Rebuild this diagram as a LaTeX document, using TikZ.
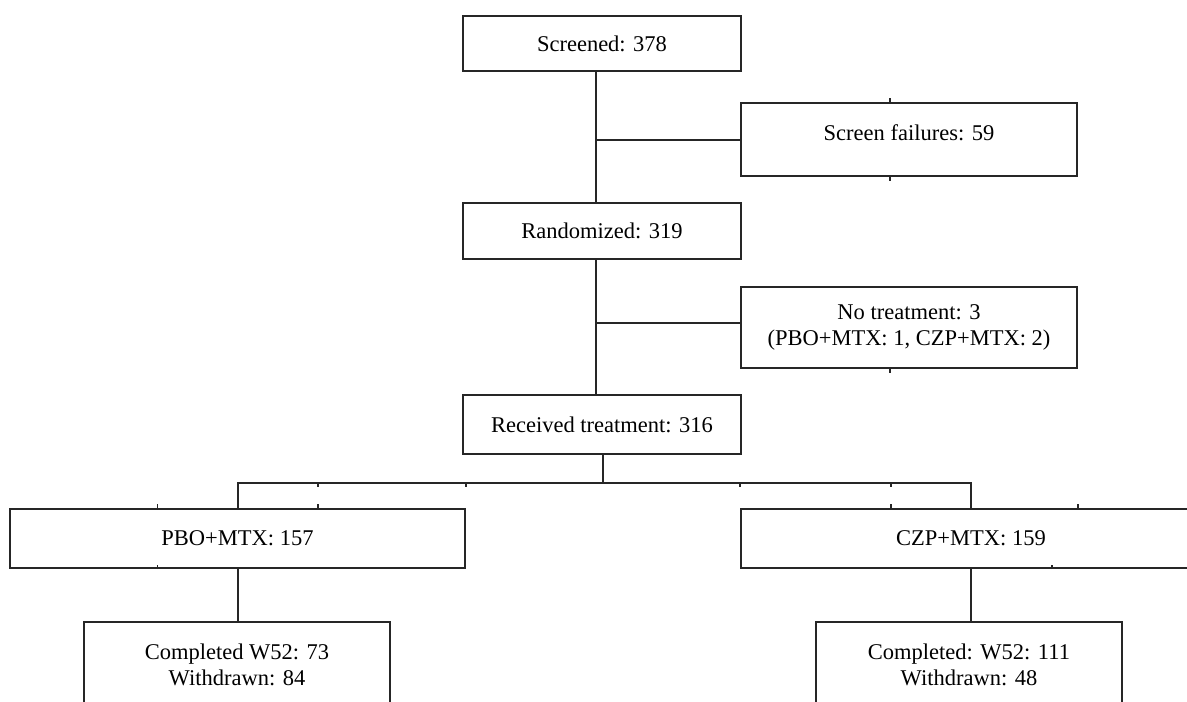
\documentclass[tikz,border=0pt]{standalone}
\usepackage{fontspec}
\setmainfont{Liberation Serif}
\begin{document}
\begin{tikzpicture}[x=1pt,y=-1pt,
  box/.style={draw=black!85, line width=2pt, inner sep=0pt, align=center,
    font=\fontsize{22.5}{26}\selectfont},
  txt/.style={inner sep=0pt, align=center, font=\fontsize{22.5}{26}\selectfont},
  link/.style={draw=black!85, line width=2pt},
  tick/.style={draw=black!85, line width=1.2pt}]
\useasboundingbox (0,0) rectangle (1187,702);
\clip (0,0) rectangle (1187,702);
\fill[white] (0,0) rectangle (1187,702);

\node[box, minimum width=278pt, minimum height=55pt] (scr) at (602,43.5) {Screened: 378};
\node[box, minimum width=336pt, minimum height=73pt] (sf) at (909,139.5) {};
\node[txt] (sftxt) at ([yshift=7pt]sf.center) {Screen failures: 59};
\node[box, minimum width=278pt, minimum height=56pt] (rnd) at (602,231) {Randomized: 319};
\node[box, minimum width=336pt, minimum height=81pt] (nt) at (909,327.5) {No treatment: 3\\(PBO+MTX: 1, CZP+MTX: 2)};
\node[box, minimum width=278pt, minimum height=59pt] (rcv) at (602,424.5) {Received treatment: 316};
\node[box, minimum width=455pt, minimum height=59pt] (pbo) at (237.5,538.5) {PBO+MTX: 157};
\node[box, minimum width=460pt, minimum height=59pt] (czp) at (971,538.5) {CZP+MTX: 159};
\node[box, minimum width=306pt, minimum height=86pt] (cl) at (237,665) {Completed W52: 73\\Withdrawn: 84};
\node[box, minimum width=306pt, minimum height=86pt] (cr) at (969,665) {Completed: W52: 111\\Withdrawn: 48};

% trunk
\coordinate (t1) at ([xshift=-6pt]scr.south);
\draw[link] (t1) -- (t1 |- rnd.north);
\draw[link] (sf.west) -- (sf.west -| t1);
\coordinate (t2) at ([xshift=-6pt]rnd.south);
\draw[link] (t2) -- (t2 |- rcv.north);
\coordinate (ntc) at ([yshift=4.5pt]nt.west);
\draw[link] (ntc) -- (ntc -| t2);

% branch
\coordinate (t3) at ([xshift=1pt]rcv.south);
\coordinate (br) at ([yshift=-27.5pt]t3);
\draw[link] (t3) -- (br);
\draw[link] (pbo.north) |- (br) -| (czp.north);
\draw[link] (pbo.south) -- (pbo.south |- cl.north);
\draw[link] (czp.south) -- (czp.south |- cr.north);

% small tick artefacts
\coordinate (k1) at ([xshift=80.5pt]pbo.north);
\coordinate (k2) at ([xshift=-80pt]pbo.north);
\coordinate (k3) at ([xshift=-80pt]pbo.south);
\coordinate (k4) at ([xshift=-80pt]czp.north);
\coordinate (k5) at ([xshift=107pt]czp.north);
\coordinate (k6) at ([xshift=81pt]czp.south);
\draw[tick] (k1) -- ++(0,-4);
\draw[tick] (k2) -- ++(0,-4);
\draw[tick] (k3) -- ++(0,-4);
\draw[tick] (k4) -- ++(0,-4);
\draw[tick] (k5) -- ++(0,-4);
\draw[tick] (k6) -- ++(0,-4);
\draw[tick] (k1 |- br) -- ++(0,4);
\draw[tick] (pbo.north east |- br) -- ++(0,4);
\draw[tick] (czp.north west |- br) -- ++(0,4);
\draw[tick] (k4 |- br) -- ++(0,4);
\coordinate (k7) at ([xshift=-19pt]sf.north);
\coordinate (k8) at ([xshift=-19pt]sf.south);
\coordinate (k9) at ([xshift=-19pt]nt.south);
\draw[tick] (k7) -- ++(0,-4);
\draw[tick] (k8) -- ++(0,4);
\draw[tick] (k9) -- ++(0,4);
\end{tikzpicture}
\end{document}
